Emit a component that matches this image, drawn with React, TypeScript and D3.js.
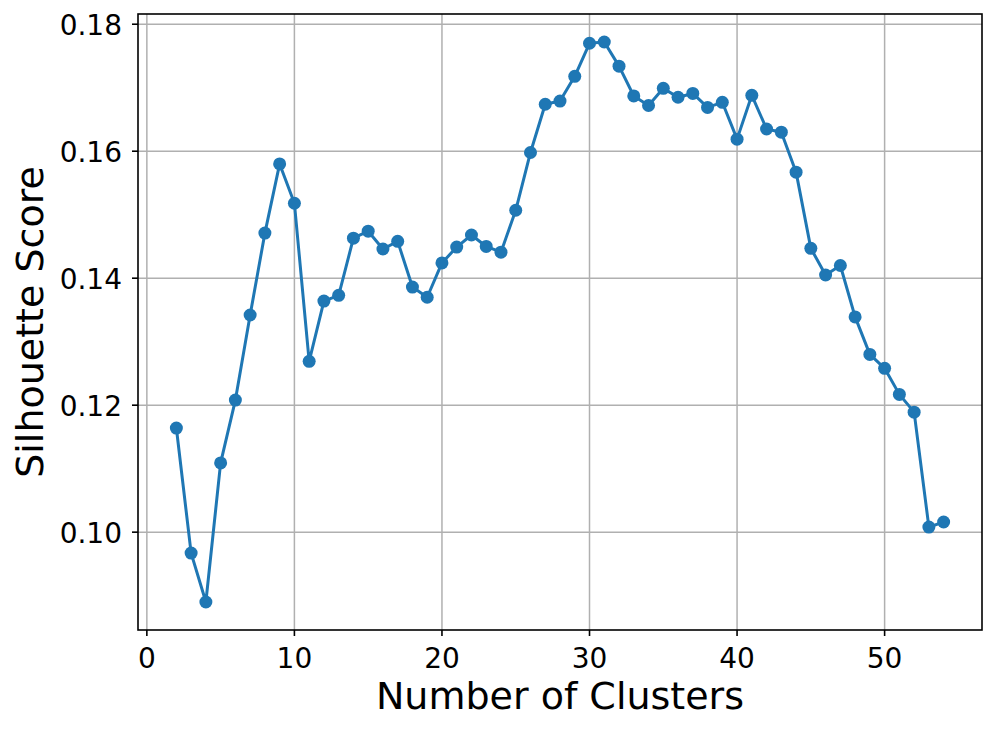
import React, { useRef, useEffect } from 'react';
import * as d3 from 'd3';

const clusters = [
  2, 3, 4, 5, 6, 7, 8, 9, 10, 11, 12, 13, 14, 15, 16, 17, 18, 19, 20, 21, 22,
  23, 24, 25, 26, 27, 28, 29, 30, 31, 32, 33, 34, 35, 36, 37, 38, 39, 40, 41,
  42, 43, 44, 45, 46, 47, 48, 49, 50, 51, 52, 53, 54,
];

const scores = [
  0.1164, 0.0967, 0.089, 0.1109, 0.1208, 0.1342, 0.1471, 0.158, 0.1518,
  0.1269, 0.1364, 0.1373, 0.1463, 0.1474, 0.1446, 0.1458, 0.1386, 0.137,
  0.1424, 0.1449, 0.1468, 0.145, 0.1441, 0.1507, 0.1598, 0.1674, 0.1679,
  0.1718, 0.177, 0.1772, 0.1734, 0.1687, 0.1672, 0.1699, 0.1685, 0.1691,
  0.1669, 0.1677, 0.1619, 0.1688, 0.1635, 0.163, 0.1567, 0.1447, 0.1405,
  0.142, 0.1339, 0.128, 0.1258, 0.1217, 0.1189, 0.1008, 0.1016,
];

const xTicks = [0, 10, 20, 30, 40, 50];
const yTicks = [0.1, 0.12, 0.14, 0.16, 0.18];

const WIDTH = 996;
const HEIGHT = 731;
const FONT = '"DejaVu Sans", sans-serif';

const SilhouetteChart = () => {
  const svgRef = useRef(null);

  useEffect(() => {
    const svg = d3.select(svgRef.current);
    svg.selectAll('*').remove();

    const left = 138;
    const right = 982;
    const top = 14;
    const bottom = 630;

    // matplotlib-style 5% margins around the data
    const xMin = d3.min(clusters), xMax = d3.max(clusters);
    const yMin = d3.min(scores), yMax = d3.max(scores);
    const xPad = (xMax - xMin) * 0.05;
    const yPad = (yMax - yMin) * 0.05;

    const xScale = d3.scaleLinear().domain([xMin - xPad, xMax + xPad]).range([left, right]);
    const yScale = d3.scaleLinear().domain([yMin - yPad, yMax + yPad]).range([bottom, top]);

    const data = clusters.map((c, i) => ({ x: c, y: scores[i] }));

    // grid
    const grid = svg.append('g').attr('stroke', '#b0b0b0').attr('stroke-width', 1.5);
    grid
      .selectAll('line.gx')
      .data(xTicks)
      .join('line')
      .attr('x1', (d) => xScale(d))
      .attr('x2', (d) => xScale(d))
      .attr('y1', top)
      .attr('y2', bottom);
    grid
      .selectAll('line.gy')
      .data(yTicks)
      .join('line')
      .attr('class', 'gy')
      .attr('x1', left)
      .attr('x2', right)
      .attr('y1', (d) => yScale(d))
      .attr('y2', (d) => yScale(d));

    // line + markers
    const lineGenerator = d3
      .line()
      .x((d) => xScale(d.x))
      .y((d) => yScale(d.y));

    svg
      .append('path')
      .datum(data)
      .attr('d', lineGenerator)
      .attr('fill', 'none')
      .attr('stroke', '#1f77b4')
      .attr('stroke-width', 3)
      .attr('stroke-linejoin', 'round');

    svg
      .append('g')
      .selectAll('circle')
      .data(data)
      .join('circle')
      .attr('cx', (d) => xScale(d.x))
      .attr('cy', (d) => yScale(d.y))
      .attr('r', 6.5)
      .attr('fill', '#1f77b4');

    // frame
    svg
      .append('rect')
      .attr('x', left)
      .attr('y', top)
      .attr('width', right - left)
      .attr('height', bottom - top)
      .attr('fill', 'none')
      .attr('stroke', 'black')
      .attr('stroke-width', 1.6);

    // x ticks
    const xt = svg.append('g').selectAll('g').data(xTicks).join('g');
    xt.append('line')
      .attr('x1', (d) => xScale(d))
      .attr('x2', (d) => xScale(d))
      .attr('y1', bottom)
      .attr('y2', bottom + 6)
      .attr('stroke', 'black')
      .attr('stroke-width', 1.6);
    xt.append('text')
      .attr('x', (d) => xScale(d))
      .attr('y', 668)
      .attr('text-anchor', 'middle')
      .attr('font-family', FONT)
      .attr('font-size', 28)
      .text((d) => d3.format('d')(d));

    // y ticks
    const yt = svg.append('g').selectAll('g').data(yTicks).join('g');
    yt.append('line')
      .attr('x1', left - 6)
      .attr('x2', left)
      .attr('y1', (d) => yScale(d))
      .attr('y2', (d) => yScale(d))
      .attr('stroke', 'black')
      .attr('stroke-width', 1.6);
    yt.append('text')
      .attr('x', 122)
      .attr('y', (d) => yScale(d) + 10.5)
      .attr('text-anchor', 'end')
      .attr('font-family', FONT)
      .attr('font-size', 28)
      .text((d) => d3.format('.2f')(d));

    // axis labels
    svg
      .append('text')
      .attr('x', (left + right) / 2)
      .attr('y', 709)
      .attr('text-anchor', 'middle')
      .attr('font-family', FONT)
      .attr('font-size', 38)
      .text('Number of Clusters');

    svg
      .append('text')
      .attr('transform', `translate(43, ${(top + bottom) / 2}) rotate(-90)`)
      .attr('text-anchor', 'middle')
      .attr('font-family', FONT)
      .attr('font-size', 38)
      .text('Silhouette Score');
  }, []);

  return (
    <svg
      ref={svgRef}
      width={WIDTH}
      height={HEIGHT}
      style={{ position: 'absolute', left: 0, top: 0, background: 'white' }}
    />
  );
};

export default function App() {
  return <SilhouetteChart />;
}
